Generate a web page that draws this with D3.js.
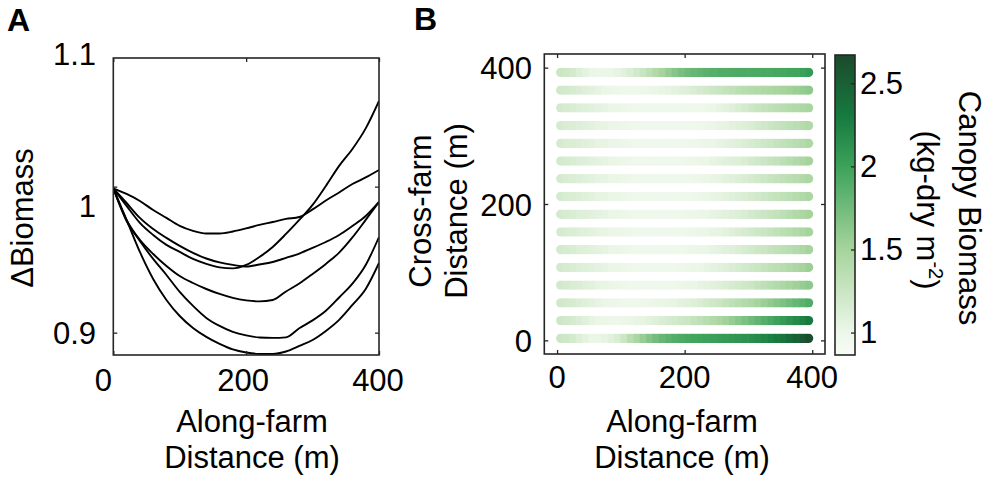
<!DOCTYPE html>
<html><head><meta charset="utf-8">
<script src="https://cdn.jsdelivr.net/npm/d3@7"></script>
<style>
html,body{margin:0;padding:0;background:#fff;}
svg{display:block;font-family:"Liberation Sans",Arial,Helvetica,sans-serif;}
</style></head><body>
<svg id="chart" width="992" height="483"></svg>
<script>
// ---------- Panel A data ----------
const distA = [0,20,40,60,80,100,120,140,160,180,200,220,240,260,280,300,320,340,360,380,400];
const curveTop    = [0.9989,0.9950,0.9902,0.9840,0.9786,0.9731,0.9697,0.9679,0.9679,0.9693,0.9714,0.9738,0.9758,0.9779,0.9792,0.9844,0.9905,0.9960,1.0018,1.0063,1.0114];
const curveSteep  = [0.9989,0.9868,0.9752,0.9669,0.9601,0.9553,0.9505,0.9471,0.9447,0.9440,0.9464,0.9518,0.9587,0.9676,0.9772,0.9875,1.0005,1.0142,1.0258,1.0399,1.0587];
const curveMid    = [0.9989,0.9888,0.9786,0.9710,0.9649,0.9594,0.9546,0.9508,0.9481,0.9464,0.9453,0.9467,0.9484,0.9512,0.9542,0.9580,0.9621,0.9669,0.9731,0.9799,0.9895];
const curveLow    = [0.9989,0.9772,0.9635,0.9539,0.9457,0.9388,0.9340,0.9299,0.9265,0.9238,0.9221,0.9214,0.9224,0.9282,0.9337,0.9402,0.9471,0.9548,0.9652,0.9772,0.9895];
const curveBump   = [0.9989,0.9765,0.9628,0.9505,0.9395,0.9279,0.9183,0.9101,0.9046,0.9005,0.8981,0.8967,0.8964,0.8968,0.9030,0.9084,0.9150,0.9241,0.9336,0.9464,0.9655];
const curveBottom = [0.9989,0.9772,0.9553,0.9368,0.9224,0.9114,0.9032,0.8971,0.8923,0.8885,0.8864,0.8854,0.8854,0.8871,0.8909,0.8950,0.9012,0.9088,0.9190,0.9299,0.9477];
const xTicksA = [0,200,400];
const xTickLabelsA = ["0","200","400"];
const yTicksA = [0.9,1.0,1.1];
const yTickLabelsA = ["0.9","1","1.1"];

// ---------- Panel B data ----------
const alongX = [5,15,25,35,45,55,65,75,85,95,105,115,125,135,145,155,165,175,185,195,205,215,225,235,245,255,265,275,285,295,305,315,325,335,345,355,365,375,385,395];
const crossY = [3,29,55,81,107,133,159,185,211,237,263,289,315,341,367,393];
const row00 = [1.25,1.22,1.18,1.12,1.06,1.02,1.02,1.04,1.08,1.15,1.25,1.36,1.47,1.57,1.66,1.74,1.80,1.85,1.89,1.92,1.95,1.97,1.99,2.00,2.02,2.04,2.06,2.08,2.10,2.12,2.15,2.18,2.22,2.26,2.30,2.35,2.42,2.50,2.58,2.65];
const row01 = [1.22,1.20,1.17,1.13,1.09,1.05,1.02,1.00,0.99,0.99,1.00,1.01,1.03,1.05,1.07,1.10,1.13,1.16,1.19,1.22,1.25,1.29,1.33,1.37,1.42,1.47,1.52,1.58,1.64,1.70,1.76,1.82,1.88,1.94,2.00,2.06,2.12,2.18,2.24,2.30];
const row02 = [1.20,1.18,1.16,1.13,1.10,1.07,1.04,1.02,1.00,0.99,0.98,0.98,0.98,0.99,1.00,1.01,1.02,1.03,1.05,1.07,1.09,1.12,1.15,1.18,1.21,1.25,1.29,1.33,1.37,1.41,1.45,1.50,1.55,1.60,1.65,1.70,1.75,1.80,1.85,1.90];
const row03 = [1.19,1.17,1.15,1.13,1.10,1.08,1.05,1.03,1.01,1.00,0.99,0.98,0.98,0.97,0.97,0.97,0.98,0.98,0.99,1.00,1.01,1.02,1.04,1.06,1.08,1.10,1.13,1.16,1.19,1.22,1.25,1.29,1.33,1.37,1.41,1.45,1.49,1.53,1.57,1.62];
const row04 = [1.18,1.16,1.14,1.12,1.10,1.08,1.06,1.04,1.02,1.01,1.00,0.99,0.98,0.98,0.97,0.97,0.97,0.98,0.98,0.99,1.00,1.01,1.02,1.04,1.06,1.08,1.10,1.13,1.16,1.19,1.22,1.25,1.28,1.32,1.35,1.38,1.42,1.46,1.50,1.55];
const row05 = [1.18,1.16,1.14,1.12,1.10,1.08,1.06,1.04,1.02,1.01,1.00,0.99,0.98,0.98,0.97,0.97,0.97,0.97,0.98,0.98,0.99,1.00,1.01,1.02,1.04,1.06,1.08,1.10,1.13,1.16,1.19,1.22,1.25,1.28,1.31,1.34,1.37,1.41,1.45,1.50];
const row06 = [1.17,1.15,1.13,1.11,1.09,1.07,1.05,1.03,1.02,1.01,1.00,0.99,0.98,0.97,0.97,0.97,0.97,0.97,0.98,0.98,0.99,1.00,1.01,1.02,1.03,1.05,1.07,1.10,1.13,1.16,1.19,1.22,1.25,1.28,1.31,1.35,1.38,1.42,1.46,1.50];
const row07 = [1.18,1.16,1.14,1.12,1.10,1.08,1.06,1.04,1.02,1.01,1.00,0.99,0.98,0.98,0.97,0.97,0.97,0.97,0.97,0.98,0.99,1.00,1.01,1.02,1.04,1.06,1.08,1.10,1.12,1.15,1.18,1.21,1.24,1.27,1.30,1.34,1.38,1.42,1.46,1.50];
const row08 = [1.17,1.15,1.13,1.11,1.09,1.07,1.05,1.04,1.02,1.01,1.00,0.99,0.98,0.97,0.97,0.97,0.97,0.97,0.97,0.98,0.98,0.99,1.00,1.01,1.03,1.05,1.07,1.09,1.11,1.14,1.17,1.20,1.23,1.26,1.29,1.32,1.35,1.38,1.42,1.46];
const row09 = [1.17,1.15,1.13,1.11,1.09,1.07,1.05,1.04,1.02,1.01,1.00,0.99,0.98,0.97,0.97,0.97,0.97,0.97,0.97,0.98,0.98,0.99,1.00,1.01,1.03,1.05,1.07,1.09,1.11,1.14,1.17,1.20,1.23,1.26,1.29,1.32,1.35,1.38,1.42,1.46];
const row10 = [1.18,1.16,1.14,1.12,1.10,1.08,1.06,1.04,1.02,1.01,1.00,0.99,0.98,0.98,0.97,0.97,0.97,0.97,0.97,0.98,0.99,1.00,1.01,1.02,1.04,1.06,1.08,1.10,1.12,1.15,1.18,1.21,1.24,1.27,1.30,1.34,1.38,1.42,1.46,1.50];
const row11 = [1.17,1.15,1.13,1.11,1.09,1.07,1.05,1.04,1.02,1.01,1.00,0.99,0.98,0.97,0.97,0.97,0.97,0.97,0.97,0.97,0.98,0.99,1.00,1.01,1.02,1.04,1.06,1.08,1.10,1.13,1.16,1.19,1.22,1.25,1.28,1.31,1.34,1.37,1.41,1.45];
const row12 = [1.17,1.15,1.13,1.11,1.09,1.07,1.05,1.04,1.02,1.01,1.00,0.99,0.98,0.97,0.97,0.97,0.97,0.97,0.97,0.97,0.98,0.98,0.99,1.00,1.01,1.03,1.05,1.07,1.09,1.12,1.15,1.18,1.21,1.24,1.27,1.30,1.33,1.36,1.39,1.43];
const row13 = [1.18,1.16,1.14,1.12,1.10,1.08,1.06,1.04,1.02,1.01,1.00,0.99,0.98,0.98,0.97,0.97,0.97,0.97,0.97,0.97,0.98,0.98,0.99,1.00,1.02,1.04,1.07,1.10,1.14,1.18,1.22,1.26,1.29,1.32,1.35,1.37,1.40,1.42,1.45,1.48];
const row14 = [1.20,1.18,1.16,1.13,1.10,1.07,1.04,1.02,1.00,0.99,0.98,0.98,0.98,0.99,1.00,1.01,1.03,1.05,1.07,1.09,1.11,1.14,1.17,1.20,1.23,1.26,1.29,1.32,1.35,1.38,1.40,1.42,1.44,1.46,1.48,1.50,1.52,1.55,1.58,1.62];
const row15 = [1.25,1.22,1.18,1.12,1.06,1.02,1.00,1.00,1.01,1.04,1.08,1.13,1.19,1.26,1.34,1.42,1.50,1.58,1.65,1.71,1.76,1.80,1.83,1.86,1.88,1.89,1.90,1.91,1.92,1.92,1.93,1.93,1.94,1.94,1.95,1.96,1.97,1.98,2.01,2.05];
const xTicksB = [0,200,400];
const xTickLabelsB = ["0","200","400"];
const yTicksB = [0,200,400];
const yTickLabelsB = ["0","200","400"];
const cbarTicks = [1,1.5,2,2.5];
const cbarTickLabels = ["1","1.5","2","2.5"];

// ---------- drawing ----------
const svg = d3.select("#chart");
const INK = "#262626";
const FS = 31;

// Panel letters
svg.append("text").attr("x", 7).attr("y", 31).attr("font-size", 32).attr("font-weight", "bold").text("A");
svg.append("text").attr("x", 414).attr("y", 30).attr("font-size", 32).attr("font-weight", "bold").text("B");

// ===== Panel A =====
const xA = d3.scaleLinear().domain([0, 400]).range([113.3, 379]);
const yA = d3.scaleLinear().domain([0.8847, 1.0881]).range([355, 58]);
const gA = svg.append("g");
gA.append("clipPath").attr("id", "clipA").append("rect")
  .attr("x", xA(0)).attr("y", yA(1.0881)).attr("width", xA(400) - xA(0)).attr("height", yA(0.8847) - yA(1.0881));

const seriesA = [curveTop, curveSteep, curveMid, curveLow, curveBump, curveBottom];
const line = d3.line().x((d, i) => xA(distA[i])).y(d => yA(d)).curve(d3.curveMonotoneX);
gA.append("g").attr("clip-path", "url(#clipA)")
  .selectAll("path").data(seriesA).join("path")
  .attr("d", line).attr("fill", "none").attr("stroke", "#000").attr("stroke-width", 1.9)
  .attr("stroke-linejoin", "round");

function styleAxis(g) {
  g.select(".domain").remove();
  g.selectAll(".tick line").attr("stroke", INK).attr("stroke-width", 1.3);
  g.selectAll(".tick text").remove();
}
gA.append("g").attr("transform", `translate(0,${yA(0.8847)})`)
  .call(d3.axisBottom(xA).tickValues(xTicksA).tickSize(-4)).call(styleAxis);
gA.append("g").attr("transform", `translate(0,${yA(1.0881)})`)
  .call(d3.axisTop(xA).tickValues(xTicksA).tickSize(-4)).call(styleAxis);
gA.append("g").attr("transform", `translate(${xA(0)},0)`)
  .call(d3.axisLeft(yA).tickValues([0.9, 1.0]).tickSize(-4)).call(styleAxis);
gA.append("g").attr("transform", `translate(${xA(400)},0)`)
  .call(d3.axisRight(yA).tickValues([0.9, 1.0]).tickSize(-4)).call(styleAxis);
gA.append("rect").attr("x", xA(0)).attr("y", yA(1.0881))
  .attr("width", xA(400) - xA(0)).attr("height", yA(0.8847) - yA(1.0881))
  .attr("fill", "none").attr("stroke", INK).attr("stroke-width", 1.6);

const xLabShiftA = [-10, -3, -1];
gA.selectAll(".xlabA").data(xTicksA).join("text")
  .attr("x", (d, i) => xA(d) + xLabShiftA[i]).attr("y", 380).attr("dy", "0.35em")
  .attr("text-anchor", "middle").attr("font-size", FS).text((d, i) => xTickLabelsA[i]);
const yLabShiftA = [0, 20, 14];
gA.selectAll(".ylabA").data(yTicksA).join("text")
  .attr("x", 96).attr("y", (d, i) => yA(d) + yLabShiftA[i]).attr("dy", "0.35em")
  .attr("text-anchor", "end").attr("font-size", FS).text((d, i) => yTickLabelsA[i]);

gA.append("text").attr("x", 252).attr("y", 432).attr("text-anchor", "middle").attr("font-size", FS).text("Along-farm");
gA.append("text").attr("x", 252).attr("y", 468).attr("text-anchor", "middle").attr("font-size", FS).text("Distance (m)");
gA.append("text").attr("transform", "translate(33,218) rotate(-90)").attr("text-anchor", "middle")
  .attr("font-size", FS).text("ΔBiomass");

// ===== Panel B =====
const xB = d3.scaleLinear().domain([-20, 420]).range([544.3, 825]);
const yB = d3.scaleLinear().domain([-20, 420]).range([354, 54]);
const color = d3.scaleLinear()
  .domain([0.865, 1.0, 1.5, 2.0, 2.3, 2.67])
  .range(["#f7fcf5", "#edf7e9", "#a6d49c", "#3ca25a", "#177a3f", "#1b4a2c"])
  .interpolate(d3.interpolateRgb).clamp(true);

const rowsB = [row00,row01,row02,row03,row04,row05,row06,row07,row08,row09,row10,row11,row12,row13,row14,row15];
const gB = svg.append("g");
const defs = svg.append("defs");
const bandH = 9.4;
const halfStep = (xB(alongX[1]) - xB(alongX[0])) / 2;
rowsB.forEach((vals, r) => {
  const cy = yB(crossY[r]);
  const x0 = xB(alongX[0]) - bandH / 2 + 0.5, x1 = xB(alongX[alongX.length - 1]) + bandH / 2 - 0.5;
  defs.append("clipPath").attr("id", "rowclip" + r).append("rect")
    .attr("x", x0).attr("y", cy - bandH / 2).attr("width", x1 - x0).attr("height", bandH)
    .attr("rx", bandH / 2).attr("ry", bandH / 2);
  gB.append("g").attr("clip-path", `url(#rowclip${r})`)
    .selectAll("rect").data(vals).join("rect")
    .attr("x", (d, i) => xB(alongX[i]) - halfStep - (i === 0 ? 6 : 0) - 0.3)
    .attr("width", (d, i) => 2 * halfStep + 0.6 + ((i === 0 || i === vals.length - 1) ? 6 : 0))
    .attr("y", cy - bandH / 2).attr("height", bandH)
    .attr("fill", d => color(d));
});

gB.append("g").attr("transform", `translate(0,${yB(-20)})`)
  .call(d3.axisBottom(xB).tickValues(xTicksB).tickSize(-4)).call(styleAxis);
gB.append("g").attr("transform", `translate(0,${yB(420)})`)
  .call(d3.axisTop(xB).tickValues(xTicksB).tickSize(-4)).call(styleAxis);
gB.append("g").attr("transform", `translate(${xB(-20)},0)`)
  .call(d3.axisLeft(yB).tickValues(yTicksB).tickSize(-4)).call(styleAxis);
gB.append("g").attr("transform", `translate(${xB(420)},0)`)
  .call(d3.axisRight(yB).tickValues(yTicksB).tickSize(-4)).call(styleAxis);
gB.append("rect").attr("x", xB(-20)).attr("y", yB(420))
  .attr("width", xB(420) - xB(-20)).attr("height", yB(-20) - yB(420))
  .attr("fill", "none").attr("stroke", INK).attr("stroke-width", 1.6);

gB.selectAll(".xlabB").data(xTicksB).join("text")
  .attr("x", d => xB(d)).attr("y", 377).attr("dy", "0.35em")
  .attr("text-anchor", "middle").attr("font-size", FS).text((d, i) => xTickLabelsB[i]);
gB.selectAll(".ylabB").data(yTicksB).join("text")
  .attr("x", 532).attr("y", d => yB(d) + 1).attr("dy", "0.35em")
  .attr("text-anchor", "end").attr("font-size", FS).text((d, i) => yTickLabelsB[i]);

gB.append("text").attr("x", 682).attr("y", 432).attr("text-anchor", "middle").attr("font-size", FS).text("Along-farm");
gB.append("text").attr("x", 682).attr("y", 468).attr("text-anchor", "middle").attr("font-size", FS).text("Distance (m)");
gB.append("text").attr("transform", "translate(431,211) rotate(-90)").attr("text-anchor", "middle")
  .attr("font-size", FS).text("Cross-farm");
gB.append("text").attr("transform", "translate(467,211) rotate(-90)").attr("text-anchor", "middle")
  .attr("font-size", FS).text("Distance (m)");

// ===== Colorbar =====
const cY = d3.scaleLinear().domain([0.865, 2.67]).range([355, 55]);
const cbX0 = 835, cbX1 = 855;
const grad = defs.append("linearGradient").attr("id", "cbgrad")
  .attr("x1", 0).attr("y1", 1).attr("x2", 0).attr("y2", 0);
grad.selectAll("stop").data(color.domain()).join("stop")
  .attr("offset", d => (d - 0.865) / (2.67 - 0.865))
  .attr("stop-color", d => color(d));
const gC = svg.append("g");
gC.append("rect").attr("x", cbX0).attr("y", cY(2.67)).attr("width", cbX1 - cbX0)
  .attr("height", cY(0.865) - cY(2.67)).attr("fill", "url(#cbgrad)");
gC.append("g").attr("transform", `translate(${cbX1},0)`)
  .call(d3.axisRight(cY).tickValues(cbarTicks).tickSize(-4)).call(styleAxis);
gC.append("rect").attr("x", cbX0).attr("y", cY(2.67)).attr("width", cbX1 - cbX0)
  .attr("height", cY(0.865) - cY(2.67)).attr("fill", "none").attr("stroke", INK).attr("stroke-width", 1.6);
gC.selectAll(".clab").data(cbarTicks).join("text")
  .attr("x", 860).attr("y", d => cY(d)).attr("dy", "0.35em")
  .attr("font-size", FS).text((d, i) => cbarTickLabels[i]);
gC.append("text").attr("transform", "translate(959,208) rotate(90)").attr("text-anchor", "middle")
  .attr("font-size", FS).text("Canopy Biomass");
const unit = gC.append("text").attr("transform", "translate(917,210) rotate(90)").attr("text-anchor", "middle")
  .attr("font-size", FS);
unit.append("tspan").text("(kg-dry m");
unit.append("tspan").attr("font-size", 20).attr("dy", -12).text("-2");
unit.append("tspan").attr("dy", 12).text(")");
</script>
</body></html>
